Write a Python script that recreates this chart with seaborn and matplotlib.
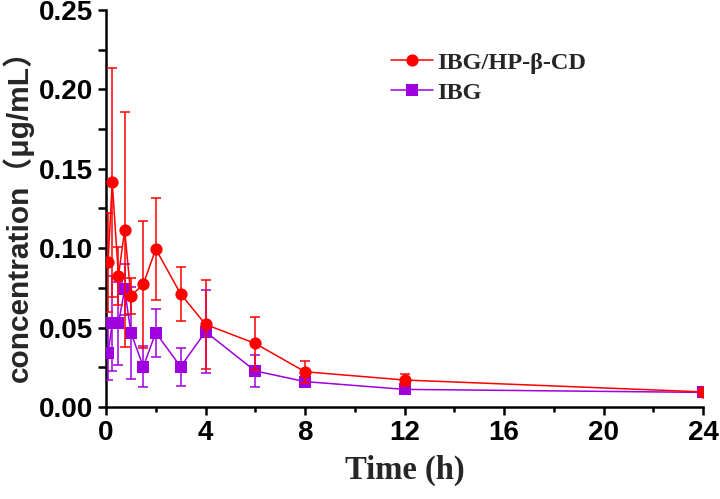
import numpy as np
import pandas as pd
import matplotlib
matplotlib.use("Agg")
import matplotlib.pyplot as plt
import seaborn as sns
from matplotlib.lines import Line2D
from matplotlib.ticker import MultipleLocator, FuncFormatter

# ---- data ----
time_h = [0.083, 0.25, 0.5, 0.75, 1, 1.5, 2, 3, 4, 6, 8, 12, 24]
ibg_hp_mean = [0.091, 0.1415, 0.0825, 0.1115, 0.070, 0.0772, 0.0995, 0.0712, 0.052, 0.040, 0.0222, 0.017, 0.0095]
ibg_hp_sd = [0.031, 0.072, 0.018, 0.074, 0.0114, 0.040, 0.0323, 0.0171, 0.028, 0.0169, 0.007, 0.004, 0.0015]
ibg_mean = [0.0338, 0.0527, 0.0527, 0.0741, 0.0468, 0.0254, 0.0468, 0.0254, 0.0474, 0.0227, 0.016, 0.0111, 0.0092]
ibg_sd = [0.017, 0.030, 0.026, 0.016, 0.029, 0.013, 0.015, 0.012, 0.026, 0.010, 0.003, 0.002, 0.001]
series_names = ["IBG/HP-β-CD", "IBG"]
x_ticks = [0, 4, 8, 12, 16, 20, 24]
y_ticks = [0.00, 0.05, 0.10, 0.15, 0.20, 0.25]

RED = "#FF0000"
PURPLE = "#9E00DE"

sns.set_theme(style="ticks")
plt.rcParams['font.family'] = ['Liberation Sans', 'Noto Sans CJK SC', 'DejaVu Sans']

df = pd.concat([
    pd.DataFrame({"time": time_h, "conc": ibg_hp_mean, "sd": ibg_hp_sd, "group": series_names[0]}),
    pd.DataFrame({"time": time_h, "conc": ibg_mean, "sd": ibg_sd, "group": series_names[1]}),
])

fig = plt.figure(figsize=(7.2, 4.99), dpi=100)
ax = fig.add_axes([106/720, 1 - 407/499, (703-106)/720, (407-10)/499])

styles = {
    series_names[1]: dict(color=PURPLE, marker="s", ms=8.0, z=3),
    series_names[0]: dict(color=RED, marker="o", ms=8.8, z=4),
}
for name in [series_names[1], series_names[0]]:
    sub = df[df.group == name]
    st = styles[name]
    ax.errorbar(sub["time"], sub["conc"], yerr=sub["sd"], fmt="none",
                ecolor=st["color"], elinewidth=1.1, capsize=3.8, capthick=1.1,
                zorder=st["z"])
    sns.lineplot(data=sub, x="time", y="conc", ax=ax, color=st["color"],
                 marker=st["marker"], markersize=st["ms"], markeredgewidth=0,
                 linewidth=1.1, zorder=st["z"], legend=False, errorbar=None)

ax.set_xlim(0, 24)
ax.set_ylim(0, 0.25)
ax.set_xticks(x_ticks)
ax.xaxis.set_minor_locator(MultipleLocator(2))
ax.set_yticks(y_ticks)
ax.yaxis.set_minor_locator(MultipleLocator(0.025))
ax.yaxis.set_major_formatter(FuncFormatter(lambda v, p: f"{v:.2f}"))

for s in ["top", "right"]:
    ax.spines[s].set_visible(False)
for s in ["left", "bottom"]:
    ax.spines[s].set_linewidth(1.8)
    ax.spines[s].set_color("black")

ax.tick_params(axis="both", which="major", direction="out", length=6, width=1.8,
               colors="black", labelsize=20, pad=3)
ax.tick_params(axis="x", which="minor", direction="out", length=3.5, width=1.8, colors="black")
ax.tick_params(axis="y", which="minor", direction="out", length=6, width=1.8, colors="black")
for lab in ax.get_xticklabels() + ax.get_yticklabels():
    lab.set_fontweight("bold")

ax.set_xlabel("Time (h)", fontsize=23.5, fontweight="bold", family="Liberation Serif", labelpad=7)
ax.set_ylabel("concentration（μg/mL）", fontsize=21.5, fontweight="bold",
              family=["Liberation Sans", "Noto Sans CJK SC"], labelpad=4)

handles = [
    Line2D([], [], color=RED, marker="o", markersize=8.8, markeredgewidth=0, linewidth=1.1),
    Line2D([], [], color=PURPLE, marker="s", markersize=8.0, markeredgewidth=0, linewidth=1.1),
]
leg = ax.legend(handles, series_names, loc="upper left", bbox_to_anchor=(0.44, 0.95),
                frameon=False, prop={"family": "Liberation Serif", "weight": "bold", "size": 17.5},
                handlelength=1.75, handletextpad=0.15, labelspacing=0.32)

fig.savefig("out.png", dpi=100)
